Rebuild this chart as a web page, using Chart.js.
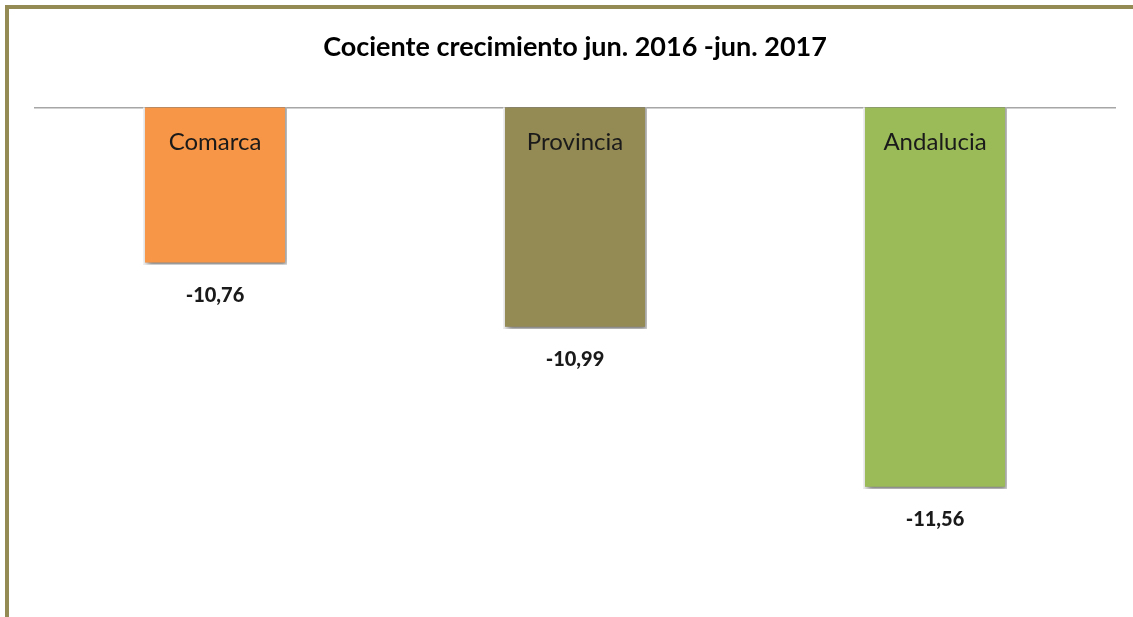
<!DOCTYPE html>
<html lang="es">
<head>
<meta charset="UTF-8">
<title>Cociente crecimiento jun. 2016 -jun. 2017</title>
<script src="https://cdn.jsdelivr.net/npm/chart.js"></script>
<style>
    html, body { margin: 0; padding: 0; background: #fff; }
    #wrap { position: relative; width: 1133px; height: 617px; overflow: hidden; }
    #marco {
        position: absolute; left: 5px; top: 5px; width: 1200px; height: 700px;
        border-left: 4px solid #948a54; border-top: 4px solid #948a54;
    }
    #grafico { position: absolute; left: 0; top: 0; }
</style>
</head>
<body>
<div id="wrap">
    <div id="marco"></div>
    <canvas id="grafico" width="1133" height="617"></canvas>
</div>
<script>
    const zonas = ['Comarca', 'Provincia', 'Andalucia'];
    const cociente = [-10.76, -10.99, -11.56];
    const colores = ['#f79646', '#948a54', '#9bbb59'];
    const ejeMin = -12;
    const ejeMax = -10.2;

    const FUENTE = 'Lato, "Open Sans", sans-serif';

    // sombra suave debajo de las barras
    const sombraBarras = {
        id: 'sombraBarras',
        beforeDatasetsDraw(chart) {
            const ctx = chart.ctx;
            ctx.save();
            ctx.shadowColor = 'rgba(0,0,0,0.5)';
            ctx.shadowBlur = 6;
            ctx.shadowOffsetX = 2;
            ctx.shadowOffsetY = 4;
        },
        afterDatasetsDraw(chart) {
            chart.ctx.restore();
        }
    };

    // nombre dentro de la barra y valor debajo
    const etiquetas = {
        id: 'etiquetas',
        afterDatasetsDraw(chart) {
            const ctx = chart.ctx;
            const meta = chart.getDatasetMeta(0);
            const arriba = chart.chartArea.top;
            ctx.save();
            ctx.textAlign = 'center';
            ctx.textBaseline = 'middle';
            ctx.fillStyle = '#1a1a1a';
            meta.data.forEach((bar, i) => {
                ctx.font = '24px ' + FUENTE;
                ctx.fillText(zonas[i], bar.x, arriba + 35);
                ctx.font = '900 20px ' + FUENTE;
                ctx.fillText(cociente[i].toFixed(2).replace('.', ','), bar.x, bar.y + 31);
            });
            ctx.restore();
        }
    };

    new Chart(document.getElementById('grafico'), {
        type: 'bar',
        data: {
            labels: zonas,
            datasets: [{
                data: cociente,
                backgroundColor: colores,
                borderColor: '#ffffff',
                borderWidth: 2,
                categoryPercentage: 1,
                barPercentage: 0.4
            }]
        },
        options: {
            responsive: false,
            animation: false,
            layout: { padding: { left: 35, right: 18, bottom: 5 } },
            plugins: {
                legend: { display: false },
                tooltip: { enabled: false },
                title: {
                    display: true,
                    text: 'Cociente crecimiento jun. 2016 -jun. 2017',
                    color: '#000',
                    font: { family: FUENTE, size: 27, weight: 'bold', lineHeight: 1.2 },
                    padding: { top: 31, bottom: 36 }
                }
            },
            scales: {
                x: {
                    position: 'top',
                    grid: { display: false },
                    ticks: { display: false },
                    border: { display: true, color: '#a6a6a6', width: 1.5 }
                },
                y: {
                    display: false,
                    min: ejeMin,
                    max: ejeMax
                }
            }
        },
        plugins: [sombraBarras, etiquetas]
    });
</script>
</body>
</html>
